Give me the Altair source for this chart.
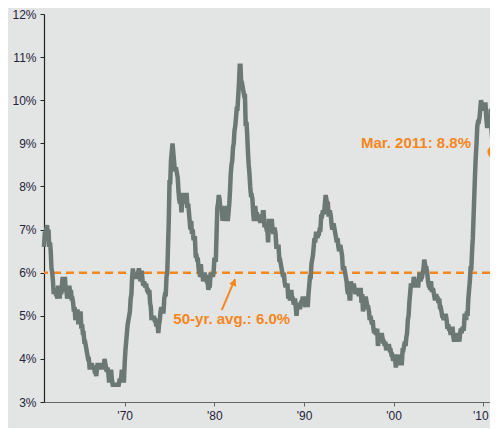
import altair as alt
import pandas as pd

# Monthly unemployment rate (%), Jan 1961 - Mar 2011
START_YEAR = 1961
rates = [
    6.6, 6.9, 6.9, 7.0, 7.1, 6.9, 7.0, 6.6, 6.7, 6.5, 6.1, 6.0,   # 1961
    5.8, 5.5, 5.6, 5.6, 5.5, 5.5, 5.4, 5.7, 5.6, 5.4, 5.7, 5.5,   # 1962
    5.7, 5.9, 5.7, 5.7, 5.9, 5.6, 5.6, 5.4, 5.5, 5.5, 5.7, 5.5,   # 1963
    5.6, 5.4, 5.4, 5.3, 5.1, 5.2, 4.9, 5.0, 5.1, 5.1, 4.8, 5.0,   # 1964
    4.9, 5.1, 4.7, 4.8, 4.6, 4.6, 4.4, 4.4, 4.3, 4.2, 4.1, 4.0,   # 1965
    4.0, 3.8, 3.8, 3.8, 3.9, 3.8, 3.8, 3.8, 3.7, 3.7, 3.6, 3.8,   # 1966
    3.9, 3.8, 3.8, 3.8, 3.8, 3.9, 3.8, 3.8, 3.8, 4.0, 3.9, 3.8,   # 1967
    3.7, 3.8, 3.7, 3.5, 3.5, 3.7, 3.7, 3.5, 3.4, 3.4, 3.4, 3.4,   # 1968
    3.4, 3.4, 3.4, 3.4, 3.4, 3.5, 3.5, 3.5, 3.7, 3.7, 3.5, 3.5,   # 1969
    3.9, 4.2, 4.4, 4.6, 4.8, 4.9, 5.0, 5.1, 5.4, 5.5, 5.9, 6.1,   # 1970
    5.9, 5.9, 6.0, 5.9, 5.9, 5.9, 6.0, 6.1, 6.0, 5.8, 6.0, 6.0,   # 1971
    5.8, 5.7, 5.8, 5.7, 5.7, 5.7, 5.6, 5.6, 5.5, 5.6, 5.3, 5.2,   # 1972
    4.9, 5.0, 4.9, 5.0, 4.9, 4.9, 4.8, 4.8, 4.8, 4.6, 4.8, 4.9,   # 1973
    5.1, 5.2, 5.1, 5.1, 5.1, 5.4, 5.5, 5.5, 5.9, 6.0, 6.6, 7.2,   # 1974
    8.1, 8.1, 8.6, 8.8, 9.0, 8.8, 8.6, 8.4, 8.4, 8.4, 8.3, 8.2,   # 1975
    7.9, 7.7, 7.6, 7.7, 7.4, 7.6, 7.8, 7.8, 7.6, 7.7, 7.8, 7.8,   # 1976
    7.5, 7.6, 7.4, 7.2, 7.0, 7.2, 6.9, 7.0, 6.8, 6.8, 6.8, 6.4,   # 1977
    6.4, 6.3, 6.3, 6.1, 6.0, 5.9, 6.2, 5.9, 6.0, 5.8, 5.9, 6.0,   # 1978
    5.9, 5.9, 5.8, 5.8, 5.6, 5.7, 5.7, 6.0, 5.9, 6.0, 5.9, 6.0,   # 1979
    6.3, 6.3, 6.3, 6.9, 7.5, 7.6, 7.8, 7.7, 7.5, 7.5, 7.5, 7.2,   # 1980
    7.5, 7.4, 7.4, 7.2, 7.5, 7.5, 7.2, 7.4, 7.6, 7.9, 8.3, 8.5,   # 1981
    8.6, 8.9, 9.0, 9.3, 9.4, 9.6, 9.8, 9.8, 10.1, 10.4, 10.8, 10.8,  # 1982
    10.4, 10.4, 10.3, 10.2, 10.1, 10.1, 9.4, 9.5, 9.2, 8.8, 8.5, 8.3,  # 1983
    8.0, 7.8, 7.8, 7.7, 7.4, 7.2, 7.5, 7.5, 7.3, 7.4, 7.2, 7.3,   # 1984
    7.3, 7.2, 7.2, 7.3, 7.2, 7.4, 7.4, 7.1, 7.1, 7.1, 7.0, 7.0,   # 1985
    6.7, 7.2, 7.2, 7.1, 7.2, 7.2, 7.0, 6.9, 7.0, 7.0, 6.9, 6.6,   # 1986
    6.6, 6.6, 6.6, 6.3, 6.3, 6.2, 6.1, 6.0, 5.9, 6.0, 5.8, 5.7,   # 1987
    5.7, 5.7, 5.7, 5.4, 5.6, 5.4, 5.4, 5.6, 5.4, 5.4, 5.3, 5.3,   # 1988
    5.4, 5.2, 5.0, 5.2, 5.2, 5.3, 5.2, 5.2, 5.3, 5.3, 5.4, 5.4,   # 1989
    5.4, 5.3, 5.2, 5.4, 5.4, 5.2, 5.5, 5.7, 5.9, 5.9, 6.2, 6.3,   # 1990
    6.4, 6.6, 6.8, 6.7, 6.9, 6.9, 6.8, 6.9, 6.9, 7.0, 7.0, 7.3,   # 1991
    7.3, 7.4, 7.4, 7.4, 7.6, 7.8, 7.7, 7.6, 7.6, 7.3, 7.4, 7.4,   # 1992
    7.3, 7.1, 7.0, 7.1, 7.1, 7.0, 6.9, 6.8, 6.7, 6.8, 6.6, 6.5,   # 1993
    6.6, 6.6, 6.5, 6.4, 6.1, 6.1, 6.1, 6.0, 5.9, 5.8, 5.6, 5.5,   # 1994
    5.6, 5.4, 5.4, 5.8, 5.6, 5.6, 5.7, 5.7, 5.6, 5.5, 5.6, 5.6,   # 1995
    5.6, 5.5, 5.5, 5.6, 5.6, 5.3, 5.5, 5.1, 5.2, 5.2, 5.4, 5.4,   # 1996
    5.3, 5.2, 5.2, 5.1, 4.9, 5.0, 4.9, 4.8, 4.9, 4.7, 4.6, 4.7,   # 1997
    4.6, 4.6, 4.7, 4.3, 4.4, 4.5, 4.5, 4.5, 4.6, 4.5, 4.4, 4.4,   # 1998
    4.3, 4.4, 4.2, 4.3, 4.2, 4.3, 4.3, 4.2, 4.2, 4.1, 4.1, 4.0,   # 1999
    4.0, 4.1, 4.0, 3.8, 4.0, 4.0, 4.0, 4.1, 3.9, 3.9, 3.9, 3.9,   # 2000
    4.2, 4.2, 4.3, 4.4, 4.3, 4.5, 4.6, 4.9, 5.0, 5.3, 5.5, 5.7,   # 2001
    5.7, 5.7, 5.7, 5.9, 5.8, 5.8, 5.8, 5.7, 5.7, 5.7, 5.9, 6.0,   # 2002
    5.8, 5.9, 5.9, 6.0, 6.1, 6.3, 6.2, 6.1, 6.1, 6.0, 5.8, 5.7,   # 2003
    5.7, 5.6, 5.8, 5.6, 5.6, 5.6, 5.5, 5.4, 5.4, 5.5, 5.4, 5.4,   # 2004
    5.3, 5.4, 5.2, 5.2, 5.1, 5.0, 5.0, 4.9, 5.0, 5.0, 5.0, 4.9,   # 2005
    4.7, 4.8, 4.7, 4.7, 4.6, 4.6, 4.7, 4.7, 4.5, 4.4, 4.5, 4.4,   # 2006
    4.6, 4.5, 4.4, 4.5, 4.4, 4.6, 4.7, 4.6, 4.7, 4.7, 4.7, 5.0,   # 2007
    5.0, 4.9, 5.1, 5.0, 5.4, 5.6, 5.8, 6.1, 6.1, 6.5, 6.8, 7.3,   # 2008
    7.8, 8.3, 8.7, 9.0, 9.4, 9.5, 9.5, 9.6, 9.8, 10.0, 9.9, 9.9,  # 2009
    9.8, 9.8, 9.9, 9.9, 9.6, 9.4, 9.4, 9.5, 9.5, 9.4, 9.8, 9.3,   # 2010
    9.1, 9.0, 8.8,                                                # 2011
]

x_ticks = [1970, 1980, 1990, 2000, 2010]
y_ticks = [3, 4, 5, 6, 7, 8, 9, 10, 11, 12]
avg_value = 6.0
avg_label = "50-yr. avg.: 6.0%"
last_label = "Mar. 2011: 8.8%"
last_year = 2011 + 2 / 12
last_value = 8.8

BG = "#e3e5e4"
LINE = "#6c7874"
ORANGE = "#f7861c"
FONT = "Liberation Sans"

df = pd.DataFrame({
    "year": [START_YEAR + i / 12 for i in range(len(rates))],
    "rate": rates,
})

xscale = alt.Scale(domain=[1961, 2010.75], nice=False, zero=False)
yscale = alt.Scale(domain=[3, 12], nice=False, zero=False)

line = alt.Chart(df).mark_line(
    color=LINE, strokeWidth=4.5, strokeJoin="miter"
).encode(
    x=alt.X("year:Q", scale=xscale, axis=alt.Axis(
        values=x_ticks, format="d",
        labelExpr="\"'\" + substring(datum.label, 2, 4)",
        labelOffset={"condition": {"test": "datum.value == 2010", "value": -3}, "value": 0},
        title=None, grid=False, tickSize=4, labelPadding=4,
        domainColor="#666666", tickColor="#666666",
    )),
    y=alt.Y("rate:Q", scale=yscale, axis=alt.Axis(
        values=y_ticks, labelExpr="datum.value + '%'",
        title=None, grid=False, tickSize=4, labelPadding=4,
        domainColor="#222222", tickColor="#222222",
    )),
)

avg_rule = alt.Chart(pd.DataFrame({"v": [avg_value]})).mark_rule(
    color=ORANGE, strokeWidth=2.5, strokeDash=[8, 5]
).encode(y=alt.Y("v:Q", scale=yscale))

avg_text = alt.Chart(pd.DataFrame({"x": [1981.94], "y": [4.93], "t": [avg_label]})).mark_text(
    color=ORANGE, fontWeight="bold", fontSize=15, font=FONT, align="center", baseline="middle"
).encode(x=alt.X("x:Q", scale=xscale), y=alt.Y("y:Q", scale=yscale), text="t:N")

arrow_line = alt.Chart(pd.DataFrame({"x": [1980.83], "y": [5.13], "x2": [1982.3], "y2": [5.85]})).mark_rule(
    color=ORANGE, strokeWidth=2
).encode(x=alt.X("x:Q", scale=xscale), y=alt.Y("y:Q", scale=yscale), x2="x2:Q", y2="y2:Q")

arrow_head = alt.Chart(pd.DataFrame({"x": [1982.2], "y": [5.78]})).mark_point(
    shape="triangle-up", filled=True, color=ORANGE, size=60, angle=23, opacity=1
).encode(x=alt.X("x:Q", scale=xscale), y=alt.Y("y:Q", scale=yscale))

last_text = alt.Chart(pd.DataFrame({"x": [2008.63], "y": [9.01], "t": [last_label]})).mark_text(
    color=ORANGE, fontWeight="bold", fontSize=15, font=FONT, align="right", baseline="middle"
).encode(x=alt.X("x:Q", scale=xscale), y=alt.Y("y:Q", scale=yscale), text="t:N")

last_dot = alt.Chart(pd.DataFrame({"x": [last_year], "y": [last_value]})).mark_circle(
    color=ORANGE, size=160, opacity=1
).encode(x=alt.X("x:Q", scale=xscale), y=alt.Y("y:Q", scale=yscale))

chart = alt.layer(
    avg_rule, line, arrow_line, arrow_head, avg_text, last_text, last_dot
).properties(
    width=446, height=388,
    autosize=alt.AutoSizeParams(type="none"),
    padding={"left": 36, "top": 6, "right": 0, "bottom": 26},
    background=BG,
).configure_view(
    stroke=None
).configure_axis(
    labelFont=FONT, labelFontSize=12, labelColor="#23233a", domainWidth=1.2,
)

chart.save("out.html", embed_options={"renderer": "svg", "actions": False})
